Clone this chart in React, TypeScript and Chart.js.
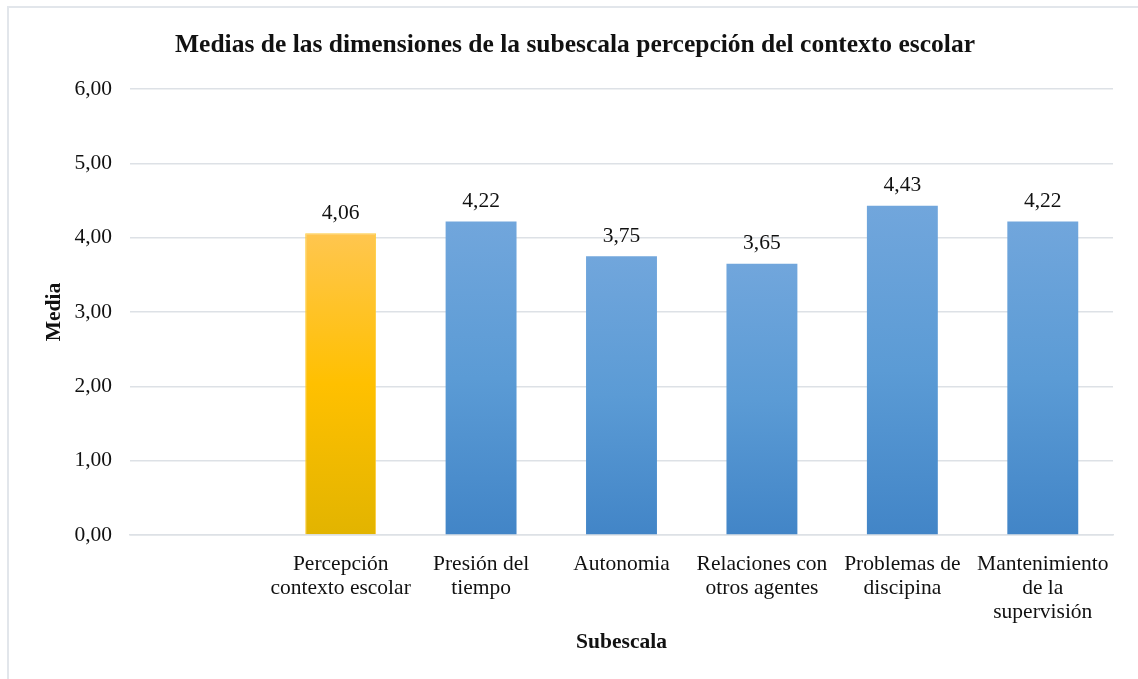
import React, { useEffect, useRef } from "react";
import { Chart, registerables } from "chart.js";

Chart.register(...registerables);

const TITLE = "Medias de las dimensiones de la subescala percepción del contexto escolar";
const Y_TITLE = "Media";
const X_TITLE = "Subescala";

const categories: (string | string[])[] = [
  "",
  ["Percepción", "contexto escolar"],
  ["Presión del", "tiempo"],
  ["Autonomia"],
  ["Relaciones con", "otros agentes"],
  ["Problemas de", "discipina"],
  ["Mantenimiento", "de la", "supervisión"],
];

const values: (number | null)[] = [null, 4.06, 4.22, 3.75, 3.65, 4.43, 4.22];

// which bars are highlighted (yellow)
const highlighted: boolean[] = [false, true, false, false, false, false, false];

const yTicks = { min: 0, max: 6, step: 1 };

const FONT = "'Liberation Serif', 'Times New Roman', serif";
const TEXT = "#111111";
const GRID = "#dde1e6";
const FS = 21.5;

const fmt = (v: number) => v.toFixed(2).replace(".", ",");

const dataLabelPlugin = {
  id: "dataLabels",
  afterDatasetsDraw(chart: any) {
    const ctx = chart.ctx;
    const meta = chart.getDatasetMeta(0);
    ctx.save();
    ctx.font = `${FS}px ${FONT}`;
    ctx.fillStyle = TEXT;
    ctx.textAlign = "center";
    ctx.textBaseline = "middle";
    meta.data.forEach((el: any, i: number) => {
      const v = values[i];
      if (v === null || v === undefined) return;
      ctx.fillText(fmt(v), el.x, el.y - 20);
    });
    ctx.restore();
  },
};

function makeGradient(context: any) {
  const chart = context.chart;
  const i = context.dataIndex;
  const v = values[i];
  const hl = highlighted[i];
  const yScale = chart.scales?.y;
  if (!chart.chartArea || !yScale || v === null || v === undefined) {
    return hl ? "#ffc000" : "#5b9bd5";
  }
  const top = yScale.getPixelForValue(v);
  const base = yScale.getPixelForValue(0);
  const g = chart.ctx.createLinearGradient(0, top, 0, base);
  if (hl) {
    g.addColorStop(0, "#ffc64f");
    g.addColorStop(0.5, "#ffc000");
    g.addColorStop(1, "#e2b400");
  } else {
    g.addColorStop(0, "#71a6dc");
    g.addColorStop(0.5, "#5b9bd5");
    g.addColorStop(1, "#4285c7");
  }
  return g;
}

export default function App() {
  const ref = useRef<HTMLCanvasElement | null>(null);

  useEffect(() => {
    if (!ref.current) return;
    const chart = new Chart(ref.current, {
      type: "bar",
      data: {
        labels: categories,
        datasets: [
          {
            data: values,
            backgroundColor: makeGradient,
            borderColor: highlighted.map((h) => (h ? "rgba(255,200,40,0.9)" : "rgba(0,0,0,0)")),
            borderWidth: highlighted.map((h) => (h ? 1 : 0)),
            barPercentage: 0.505,
            categoryPercentage: 1,
          },
        ],
      },
      options: {
        animation: false,
        responsive: false,
        maintainAspectRatio: false,
        layout: { padding: { left: 37, right: 25, top: 0, bottom: 0 } },
        plugins: {
          legend: { display: false },
          tooltip: { enabled: false },
          title: {
            display: true,
            text: TITLE,
            color: TEXT,
            font: { family: FONT, size: 25.5, weight: "bold", lineHeight: 1.2 },
            padding: { top: 30, bottom: 28.5 },
          },
        },
        scales: {
          x: {
            grid: { display: false, drawTicks: false },
            border: { display: true, color: GRID, width: 1.5 },
            ticks: {
              color: TEXT,
              font: { family: FONT, size: FS, lineHeight: 24 / FS },
              padding: 17,
              maxRotation: 0,
              minRotation: 0,
              autoSkip: false,
            },
            title: {
              display: true,
              text: X_TITLE,
              color: TEXT,
              font: { family: FONT, size: FS, weight: "bold", lineHeight: 1.2 },
              padding: { top: 0, bottom: 24 },
            },
            afterFit: (scale: any) => {
              scale.height = 144;
            },
          },
          y: {
            min: yTicks.min,
            max: yTicks.max,
            grid: { color: GRID, lineWidth: 1.5, drawTicks: false },
            border: { display: false },
            ticks: {
              stepSize: yTicks.step,
              color: TEXT,
              font: { family: FONT, size: FS },
              padding: 18,
              callback: (v: any) => fmt(Number(v)),
            },
            title: {
              display: true,
              text: Y_TITLE,
              color: TEXT,
              font: { family: FONT, size: FS, weight: "bold", lineHeight: 1.2 },
              padding: { top: 5, bottom: 0 },
            },
            afterFit: (scale: any) => {
              scale.width = 93;
            },
          },
        },
      },
      plugins: [dataLabelPlugin],
    });
    return () => chart.destroy();
  }, []);

  return (
    <div style={{ position: "absolute", left: 0, top: 0, width: 1138, height: 679, background: "#fff", overflow: "hidden" }}>
      <div
        style={{
          position: "absolute",
          left: 7,
          top: 6,
          width: 1200,
          height: 760,
          borderLeft: "2px solid #e2e6eb",
          borderTop: "2px solid #e2e6eb",
        }}
      />
      <canvas ref={ref} width={1138} height={679} style={{ position: "absolute", left: 0, top: 0 }} />
    </div>
  );
}
